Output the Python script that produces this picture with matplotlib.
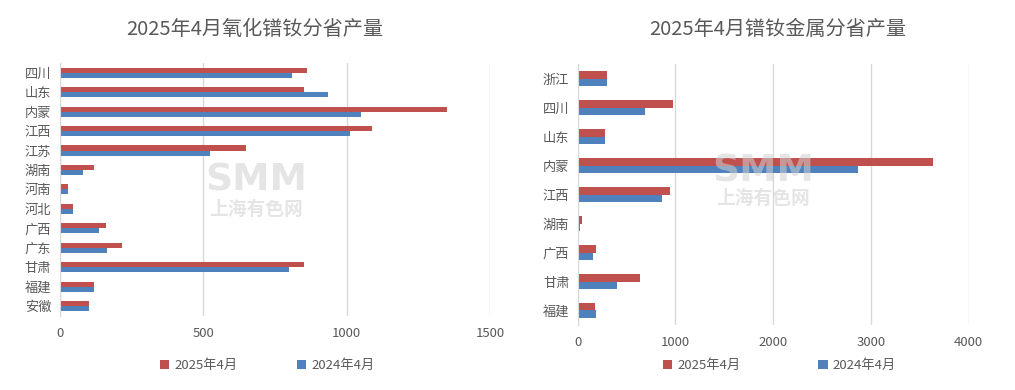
import numpy as np
import matplotlib.pyplot as plt

plt.rcParams['font.family'] = ['Noto Sans CJK SC', 'DejaVu Sans']

# -------------------------------
# Data
# -------------------------------
oxide_provinces = ["四川", "山东", "内蒙", "江西", "江苏", "湖南", "河南",
                   "河北", "广西", "广东", "甘肃", "福建", "安徽"]
oxide_2025 = [860, 850, 1350, 1088, 649, 120, 29, 46, 161, 217, 851, 120, 102]
oxide_2024 = [809, 935, 1050, 1012, 524, 81, 29, 46, 137, 165, 799, 120, 102]

metal_provinces = ["浙江", "四川", "山东", "内蒙", "江西", "湖南", "广西", "甘肃", "福建"]
metal_2025 = [300, 975, 280, 3635, 944, 44, 187, 637, 177]
metal_2024 = [300, 689, 280, 2868, 863, 24, 157, 402, 187]

oxide_ticks = [0, 500, 1000, 1500]
metal_ticks = [0, 1000, 2000, 3000, 4000]

label_2025 = "2025年4月"
label_2024 = "2024年4月"
title_oxide = "2025年4月氧化镨钕分省产量"
title_metal = "2025年4月镨钕金属分省产量"

RED = "#C0504D"
BLUE = "#4F81BD"
GREY = "#595959"
GRID = "#D9D9D9"


def draw(ax, cats, v25, v24, ticks):
    y = np.arange(len(cats))
    h = 0.26
    ax.barh(y - h / 2, v25, height=h, color=RED, label=label_2025)
    ax.barh(y + h / 2, v24, height=h, color=BLUE, label=label_2024)
    ax.set_yticks(y)
    ax.set_yticklabels(cats)
    ax.set_ylim(len(cats) - 0.5, -0.5)
    ax.set_xlim(ticks[0], ticks[-1])
    ax.set_xticks(ticks)
    ax.grid(axis="x", color=GRID, linewidth=1)
    ax.set_axisbelow(True)
    for s in ["top", "right", "bottom"]:
        ax.spines[s].set_visible(False)
    ax.spines["left"].set_color(GRID)
    ax.tick_params(axis="both", length=0, colors=GREY, labelsize=9.5)
    ax.tick_params(axis="y", pad=6)
    ax.tick_params(axis="x", pad=8)


fig = plt.figure(figsize=(10.15, 3.9), dpi=100)

ax1 = fig.add_axes([0.0588, 0.1905, 0.4243, 0.6477])
draw(ax1, oxide_provinces, oxide_2025, oxide_2024, oxide_ticks)
ax2 = fig.add_axes([0.5692, 0.1667, 0.3852, 0.669])
draw(ax2, metal_provinces, metal_2025, metal_2024, metal_ticks)

fig.text(0.251, 0.925, title_oxide, ha="center", va="center", fontsize=14.5, color=GREY)
fig.text(0.766, 0.925, title_metal, ha="center", va="center", fontsize=14.5, color=GREY)

# watermark
for x, y1, y2 in [(0.252, 0.536, 0.462), (0.752, 0.561, 0.49)]:
    fig.text(x, y1, "SMM", ha="center", va="center", fontsize=27, fontweight="heavy",
             family="DejaVu Sans", color="#D0D0D0", alpha=0.55, zorder=5)
    fig.text(x, y2, "上海有色网", ha="center", va="center", fontsize=13.5,
             fontweight="bold", color="#D0D0D0", alpha=0.55, zorder=5)

h1, l1 = ax1.get_legend_handles_labels()
fig.legend(h1, l1, loc="center", bbox_to_anchor=(0.2636, 0.063), ncol=2, frameon=False,
           fontsize=9.5, labelcolor=GREY, handlelength=0.7, handleheight=0.7,
           handletextpad=0.4, columnspacing=4.5)
h2, l2 = ax2.get_legend_handles_labels()
fig.legend(h2, l2, loc="center", bbox_to_anchor=(0.768, 0.063), ncol=2, frameon=False,
           fontsize=9.5, labelcolor=GREY, handlelength=0.7, handleheight=0.7,
           handletextpad=0.4, columnspacing=5.9)

fig.savefig("out.png", dpi=100)
